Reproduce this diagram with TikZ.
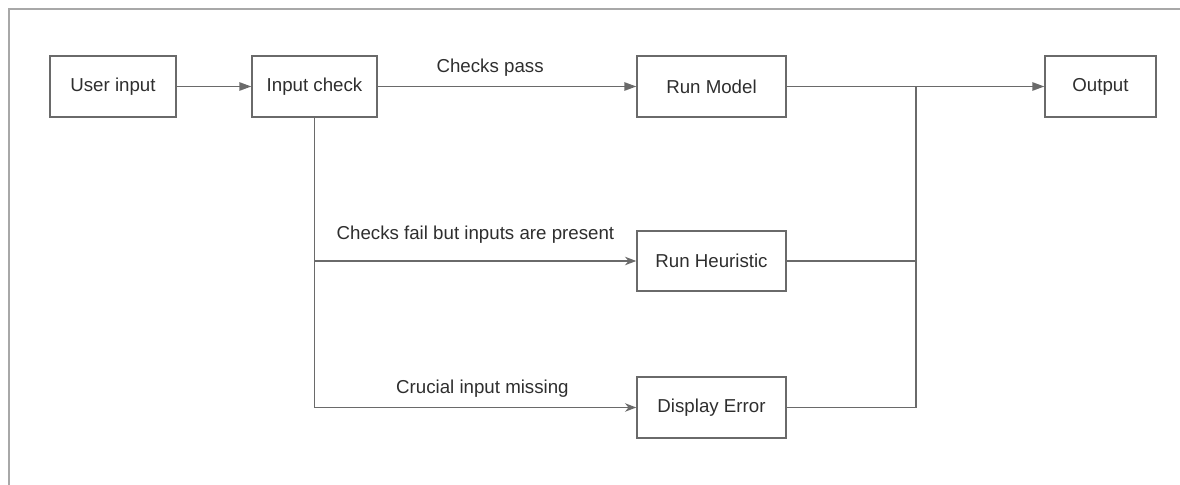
\documentclass[tikz,border=0pt]{standalone}
\usepackage{fontspec}
\setmainfont{Liberation Sans}
\usetikzlibrary{arrows.meta,positioning}

\definecolor{linegray}{HTML}{6A6A6A}
\definecolor{textgray}{HTML}{2E2E2E}
\definecolor{framegray}{HTML}{A8A8A8}

\begin{document}
\begin{tikzpicture}[
    x=0.025cm, y=-0.025cm,
    >={Triangle[length=8.5pt,width=6pt]},
    flowbox/.style={
        draw=linegray,
        line width=1pt,
        minimum height=1.525cm,
        text=textgray,
        font=\fontsize{13.3}{16}\selectfont
    },
    lbl/.style={
        text=textgray,
        font=\fontsize{13.3}{16}\selectfont,
        inner sep=0pt
    },
    arrow/.style={->, draw=linegray, line width=1pt},
    barbed/.style={arrow, >={Stealth[length=8pt,width=6pt,inset=2.5pt]}},
    plain/.style={draw=linegray, line width=1pt}
]

\useasboundingbox (0,0) rectangle (1180,485);

% --- FRAME ---
\draw[framegray, line width=1.4pt] (9,485) -- (9,9) -- (1180,9);

% --- NODES ---
\node[flowbox, minimum width=3.15cm] (user) at (113,86.5) {User input};
\node[flowbox, minimum width=3.125cm] (check) at (314.5,86.5) {Input check};
\node[flowbox, minimum width=3.725cm] (model) at (711.5,86.5) {Run Model};
\node[flowbox, minimum width=2.775cm] (output) at (1100.5,86.5) {Output};

\node[flowbox, minimum width=3.725cm, minimum height=1.5cm] (heuristic) at (711.5,261) {Run Heuristic};
\node[flowbox, minimum width=3.725cm] (error) at (711.5,407.5) {Display Error};

\coordinate (join) at (916,86.5);

% --- CONNECTIONS ---
\draw[arrow] (user) -- (check);
\draw[arrow] (check) -- node[lbl, above=6.5pt, xshift=-12pt] {Checks pass} (model);
\draw[arrow] (model) -- (output);

\draw[barbed] (check.south) |- node[lbl, above=12pt, pos=0.75] {Checks fail but inputs are present} (heuristic.west);
\draw[barbed] (check.south) |- node[lbl, above=6.5pt, pos=0.75, xshift=5pt] {Crucial input missing} (error.west);

% Merging lines
\draw[plain] (heuristic.east) -| (join);
\draw[plain] (error.east) -| (join);

\end{tikzpicture}
\end{document}
